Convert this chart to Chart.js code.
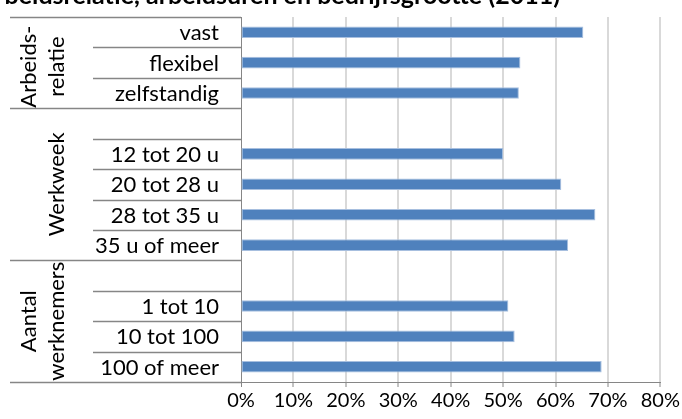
<!DOCTYPE html>
<html>
<head>
<meta charset="utf-8">
<script src="https://cdn.jsdelivr.net/npm/chart.js@4/dist/chart.umd.min.js"></script>
<style>
  html, body { margin: 0; padding: 0; background: #fff; }
</style>
</head>
<body>
<canvas id="c" width="682" height="419"></canvas>
<script>
// categorieën (lege rij tussen groepen)
const categories = ['vast', 'flexibel', 'zelfstandig', '',
  '12 tot 20 u', '20 tot 28 u', '28 tot 35 u', '35 u of meer', '',
  '1 tot 10', '10 tot 100', '100 of meer'];
const values = [65.3, 53.3, 53.0, null,
  50.0, 61.1, 67.6, 62.4, null,
  51.0, 52.2, 68.8];
const groupNames = [['Arbeids-', 'relatie'], ['Werkweek'], ['Aantal', 'werknemers']];
const groupStart = [0, 3, 8];   // rij-index waar groep begint
const xTicks = [0, 10, 20, 30, 40, 50, 60, 70, 80];
const title = 'arbeidsrelatie, arbeidsuren en bedrijfsgrootte (2011)';

const FONT = 'Lato, "Open Sans", sans-serif';
const GREY = '#868686';

const sidePlugin = {
  id: 'side',
  afterDraw(chart) {
    const ctx = chart.ctx;
    const y = chart.scales.y;
    const area = chart.chartArea;
    const n = categories.length;
    const rowH = (area.bottom - area.top) / n;

    ctx.save();
    // titel, bovenaan afgesneden
    ctx.font = 'bold 25px ' + FONT;
    ctx.fillStyle = '#000';
    ctx.textAlign = 'right';
    ctx.textBaseline = 'alphabetic';
    ctx.fillText(title, 560, 4);

    // scheidingslijnen
    ctx.strokeStyle = GREY;
    ctx.lineWidth = 1.5;
    const ends = groupStart.concat([n]);
    for (let k = 0; k <= n; k++) {
      const yy = Math.round(area.top + k * rowH) + 0.5;
      const x0 = ends.indexOf(k) >= 0 ? 10 : 93;
      ctx.beginPath();
      ctx.moveTo(x0, yy);
      ctx.lineTo(area.left, yy);
      ctx.stroke();
    }

    // categorie labels
    ctx.font = '22px ' + FONT;
    ctx.textAlign = 'right';
    ctx.textBaseline = 'middle';
    categories.forEach((c, i) => {
      if (c) ctx.fillText(c, 219, y.getPixelForValue(i) + 1);
    });

    // groepslabels, gedraaid
    ctx.textAlign = 'center';
    groupNames.forEach((lines, g) => {
      const a = area.top + groupStart[g] * rowH;
      const b = area.top + ends[g + 1] * rowH;
      let cy = (a + b) / 2;
      if (g === 0) cy += 4;
      const xs = lines.length === 2 ? [28, 56] : [56];
      lines.forEach((t, j) => {
        ctx.save();
        ctx.translate(xs[j], cy);
        ctx.rotate(-Math.PI / 2);
        ctx.fillText(t, 0, 1);
        ctx.restore();
      });
    });
    ctx.restore();
  }
};

new Chart(document.getElementById('c'), {
  type: 'bar',
  data: {
    labels: categories,
    datasets: [{
      data: values,
      backgroundColor: '#4f81bd',
      borderColor: '#a7bfdf',
      borderWidth: 1,
      borderSkipped: false,
      barPercentage: 0.38,
      categoryPercentage: 1
    }]
  },
  options: {
    indexAxis: 'y',
    responsive: false,
    animation: false,
    devicePixelRatio: 1,
    layout: { padding: { top: 17, right: 20, left: 0, bottom: 0 } },
    plugins: { legend: { display: false }, tooltip: { enabled: false }, title: { display: false } },
    scales: {
      x: {
        position: 'bottom',
        min: 0, max: 80,
        afterBuildTicks: s => { s.ticks = xTicks.map(v => ({ value: v })); },
        afterFit: s => { s.height = 37; },
        ticks: {
          color: '#000',
          font: { family: FONT, size: 20 },
          padding: 2,
          maxRotation: 0,
          callback: v => v + '%'
        },
        grid: {
          color: c => c.tick && c.tick.value === 0 ? GREY : '#d9d9d9',
          lineWidth: c => c.tick && c.tick.value === 0 ? 1 : 2,
          tickColor: GREY,
          tickWidth: 1,
          tickLength: 5,
          drawTicks: true
        },
        border: { color: GREY, width: 1 }
      },
      y: {
        offset: true,
        afterFit: s => { s.width = 241; },
        ticks: { display: false },
        grid: { display: false },
        border: { color: GREY, width: 1 }
      }
    }
  },
  plugins: [sidePlugin]
});
</script>
</body>
</html>
